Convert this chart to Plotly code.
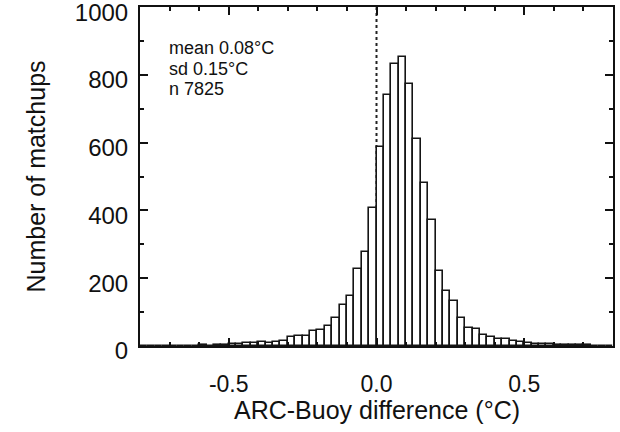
import plotly.graph_objects as go

# histogram of ARC - buoy SST differences, bins of 0.025 C starting at -0.8
bin_start = -0.8
bin_width = 0.025
counts = [0, 0, 1, 0, 1, 0, 1, 1, 2, 1, 2, 3,
          6, 7, 9, 8, 13, 8, 13, 16, 27, 30, 30, 45, 47, 59,
          82, 122, 148, 226, 277, 408,
          588, 740, 832, 853, 773, 611, 482, 372, 222, 162, 133, 82,
          52, 50, 33, 27, 20, 21, 16, 13, 10, 6, 5, 5, 4, 3, 4, 3, 2, 1, 1, 0]
centers = [bin_start + bin_width * (i + 0.5) for i in range(len(counts))]

stats_lines = ["mean 0.08°C", "sd 0.15°C", "n 7825"]
stats_y = [880, 818, 759]

x_ticks = [-0.5, 0.0, 0.5]
x_ticktext = ["-0.5", "0.0", "0.5"]
y_ticks = [0, 200, 400, 600, 800, 1000]

font_family = "Helvetica, Arial, Liberation Sans, sans-serif"

fig = go.Figure()
fig.add_trace(go.Bar(
    x=centers, y=counts,
    width=bin_width,
    marker=dict(color="white", line=dict(color="#151515", width=1.6)),
    showlegend=False,
))

# dotted zero line, hidden behind the (white) bars
fig.add_shape(type="line", x0=0, x1=0, y0=0, y1=1000, xref="x", yref="y",
              line=dict(color="#222", width=2, dash="dot"), layer="below")

for txt, yy in zip(stats_lines, stats_y):
    fig.add_annotation(x=-0.71, y=yy, xref="x", yref="y", text=txt,
                       showarrow=False, xanchor="left", yanchor="middle",
                       font=dict(size=18, color="#111", family=font_family))

# x axis title placed by hand (axis title standoff can't go any closer)
fig.add_annotation(x=0.5, y=-0.188, xref="paper", yref="paper",
                   text="ARC-Buoy difference (°C)", showarrow=False,
                   xanchor="center", yanchor="middle",
                   font=dict(size=25, color="#111", family=font_family))

fig.update_layout(
    width=620, height=432,
    margin=dict(l=140, r=7, t=7, b=86, autoexpand=False),
    paper_bgcolor="white",
    plot_bgcolor="white",
    bargap=0,
    font=dict(family=font_family, color="#111"),
    xaxis=dict(
        range=[-0.8, 0.8],
        tickvals=x_ticks, ticktext=x_ticktext,
        ticks="inside", ticklen=8, tickwidth=2, tickcolor="#111",
        minor=dict(dtick=0.1, tick0=0, ticks="inside", ticklen=4,
                   tickwidth=2, tickcolor="#111"),
        showline=True, linewidth=2, linecolor="#111", mirror="allticks",
        showgrid=False, zeroline=False, automargin=False,
        tickfont=dict(size=23),
        ticklabelstandoff=16,
        ticklabeloverflow="allow",
    ),
    yaxis=dict(
        range=[0, 1000.5],
        tickvals=y_ticks,
        ticks="inside", ticklen=8, tickwidth=2, tickcolor="#111",
        minor=dict(dtick=100, ticks="inside", ticklen=4,
                   tickwidth=2, tickcolor="#111"),
        showline=True, linewidth=2, linecolor="#111", mirror="allticks",
        showgrid=False, zeroline=False, automargin=False,
        tickfont=dict(size=24),
        ticklabelstandoff=5,
        ticklabelshift=5,
        ticklabeloverflow="allow",
        title=dict(text="Number of matchups", font=dict(size=25),
                   standoff=22),
    ),
)

# the page has a default 8px body margin; drop it so the figure sits at 0,0
fig.write_html("out.html", config={"displayModeBar": False},
               post_script="document.body.style.margin='0';")
